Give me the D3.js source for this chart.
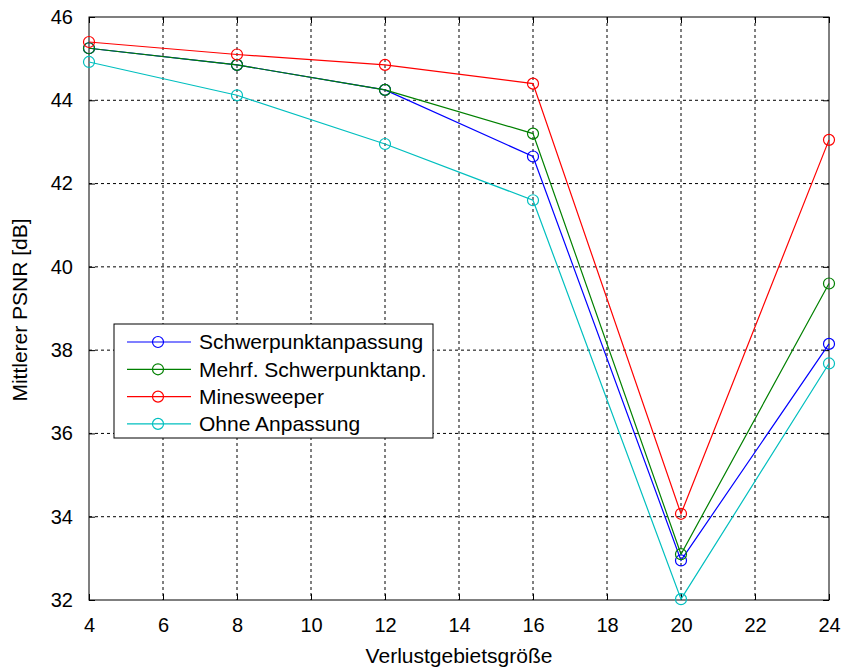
<!DOCTYPE html>
<html>
<head>
<meta charset="utf-8">
<script src="https://cdn.jsdelivr.net/npm/d3@7"></script>
<style>
  html, body { margin: 0; padding: 0; background: #fff; }
  svg { display: block; font-family: "Liberation Sans", Arial, Helvetica, sans-serif; }
</style>
</head>
<body>
<svg id="chart" width="844" height="670"></svg>
<script>
// Region sizes on the x axis
const sizes = [4, 8, 12, 16, 20, 24];

// Mean PSNR [dB] per method
const schwerpunkt = [45.25, 44.85, 44.25, 42.65, 32.95, 38.15];
const mehrfSchwerpunkt = [45.25, 44.85, 44.25, 43.2, 33.1, 39.6];
const minesweeper = [45.4, 45.1, 44.85, 44.4, 34.07, 43.05];
const ohneAnpassung = [44.92, 44.12, 42.95, 41.6, 32.02, 37.68];

const seriesNames = ["Schwerpunktanpassung", "Mehrf. Schwerpunktanp.", "Minesweeper", "Ohne Anpassung"];
const seriesColors = ["#0000ff", "#008000", "#ff0000", "#00bfbf"];
const seriesValues = [schwerpunkt, mehrfSchwerpunkt, minesweeper, ohneAnpassung];

const xTicks = [4, 6, 8, 10, 12, 14, 16, 18, 20, 22, 24];
const yTicks = [32, 34, 36, 38, 40, 42, 44, 46];

const svg = d3.select("#chart");
const plotLeft = 89, plotRight = 829, plotTop = 17, plotBottom = 600;

const x = d3.scaleLinear().domain([4, 24]).range([plotLeft, plotRight]);
const y = d3.scaleLinear().domain([32, 46]).range([plotBottom, plotTop]);

// dashed grid
const grid = svg.append("g");
grid.selectAll("line.gx").data(xTicks.slice(1, -1)).join("line")
  .attr("x1", d => x(d)).attr("x2", d => x(d))
  .attr("y1", plotTop).attr("y2", plotBottom)
  .attr("stroke", "#000").attr("stroke-width", 1).attr("stroke-dasharray", "3,3");
grid.selectAll("line.gy").data(yTicks.slice(1, -1)).join("line")
  .attr("x1", plotLeft).attr("x2", plotRight)
  .attr("y1", d => y(d)).attr("y2", d => y(d))
  .attr("stroke", "#000").attr("stroke-width", 1).attr("stroke-dasharray", "3,3");

// axes with inward ticks
const tickFont = 20;
const xAxis = svg.append("g").attr("transform", `translate(0,${plotBottom})`)
  .call(d3.axisBottom(x).tickValues(xTicks).tickSize(-6).tickPadding(18).tickFormat(d3.format("d")));
const xTop = svg.append("g").attr("transform", `translate(0,${plotTop})`)
  .call(d3.axisTop(x).tickValues(xTicks).tickSize(-6).tickFormat(""));
const yAxis = svg.append("g").attr("transform", `translate(${plotLeft},0)`)
  .call(d3.axisLeft(y).tickValues(yTicks).tickSize(-6).tickPadding(16).tickFormat(d3.format("d")));
const yRight = svg.append("g").attr("transform", `translate(${plotRight},0)`)
  .call(d3.axisRight(y).tickValues(yTicks).tickSize(-6).tickFormat(""));

[xAxis, xTop, yAxis, yRight].forEach(g => {
  g.select(".domain").remove();
  g.selectAll(".tick line").attr("stroke", "#000");
  g.selectAll("text").attr("font-size", tickFont).attr("fill", "#000")
    .attr("font-family", "Liberation Sans, Arial, sans-serif");
});

// frame
svg.append("rect").attr("x", plotLeft).attr("y", plotTop)
  .attr("width", plotRight - plotLeft).attr("height", plotBottom - plotTop)
  .attr("fill", "none").attr("stroke", "#000").attr("stroke-width", 1);

// series lines and markers
const line = d3.line().x((d, i) => x(sizes[i])).y(d => y(d));
const plot = svg.append("g");
seriesValues.forEach((vals, k) => {
  const g = plot.append("g");
  g.append("path").datum(vals).attr("d", line)
    .attr("fill", "none").attr("stroke", seriesColors[k]).attr("stroke-width", 1.2);
  g.selectAll("circle").data(vals).join("circle")
    .attr("cx", (d, i) => x(sizes[i])).attr("cy", d => y(d)).attr("r", 5.5)
    .attr("fill", "none").attr("stroke", seriesColors[k]).attr("stroke-width", 1.2);
});

// legend
const lg = svg.append("g");
lg.append("rect").attr("x", 114).attr("y", 324).attr("width", 319).attr("height", 114)
  .attr("fill", "#fff").attr("stroke", "#000").attr("stroke-width", 1);
seriesNames.forEach((name, k) => {
  const yy = 342 + k * 27.3;
  lg.append("line").attr("x1", 127).attr("x2", 191).attr("y1", yy).attr("y2", yy)
    .attr("stroke", seriesColors[k]).attr("stroke-width", 1.2);
  lg.append("circle").attr("cx", 158).attr("cy", yy).attr("r", 5.5)
    .attr("fill", "none").attr("stroke", seriesColors[k]).attr("stroke-width", 1.2);
  lg.append("text").attr("x", 199).attr("y", yy).attr("dy", "0.35em")
    .attr("font-size", 21).attr("fill", "#000").text(name);
});

// axis titles
svg.append("text").attr("x", (plotLeft + plotRight) / 2).attr("y", 663)
  .attr("text-anchor", "middle").attr("font-size", 21).text("Verlustgebietsgröße");
svg.append("text").attr("transform", "translate(27,310) rotate(-90)")
  .attr("text-anchor", "middle").attr("font-size", 21).text("Mittlerer PSNR [dB]");
</script>
</body>
</html>
